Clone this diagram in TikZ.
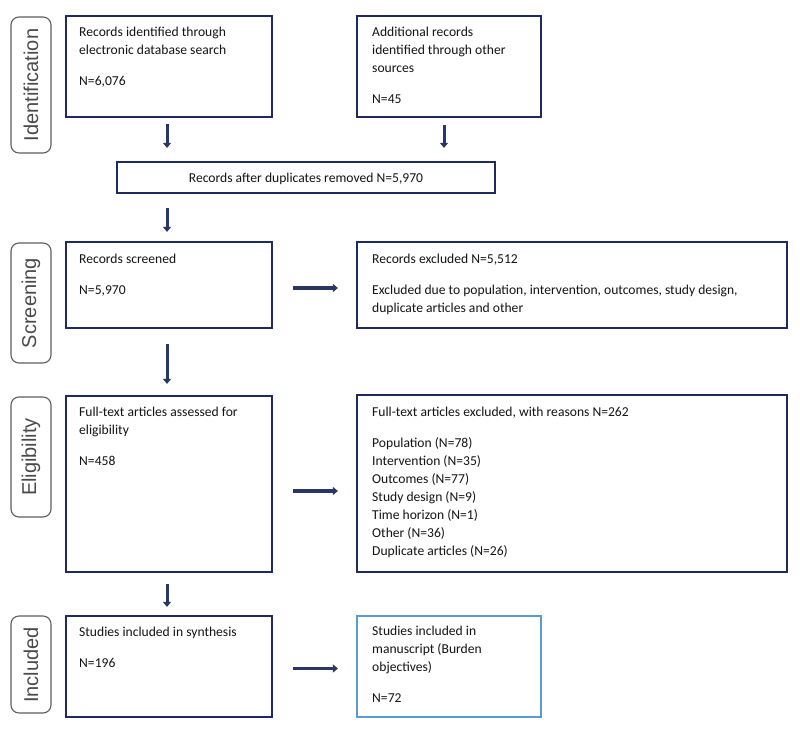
\documentclass[tikz,border=0pt]{standalone}
\usepackage{fontspec}
\setmainfont{Carlito}
\newfontfamily\labfont{Liberation Sans}
\usetikzlibrary{arrows.meta}
\definecolor{navy}{HTML}{1F2B5E}
\definecolor{arrowcol}{HTML}{283766}
\definecolor{lightblue}{HTML}{5B9BD5}
\definecolor{txtcol}{HTML}{141414}
\definecolor{labcol}{HTML}{4A4A4A}
\definecolor{sideframe}{HTML}{5E5E5E}
\newcommand{\boxtext}[2]{\parbox[t]{#1}{\setlength{\parskip}{13pt}\raggedright #2}}
\begin{document}
\begin{tikzpicture}[x=1pt,y=-1pt,
  box/.style={draw=navy,line width=2.2pt,rectangle,inner sep=0pt,fill=white},
  bluebox/.style={draw=lightblue,line width=2.2pt,rectangle,inner sep=0pt,fill=white},
  txt/.style={anchor=base west,inner sep=0pt,text=txtcol,font=\fontsize{13.6}{18}\selectfont},
  side/.style={draw=sideframe,line width=1.1pt,rounded corners=8pt,rectangle,inner sep=0pt},
  sidelab/.style={rotate=90,inner sep=0pt,text=labcol,font=\labfont\fontsize{20}{24}\selectfont},
  arr/.style={draw=arrowcol,line width=3pt,-{Triangle[length=5pt,width=8pt]}},
  harr/.style={draw=arrowcol,line width=3.5pt,-{Triangle[length=5pt,width=8pt]}}
]
\path[use as bounding box,fill=white] (0,0) rectangle (800,733);

% side labels
\draw[side] (11,17) rectangle (51,153);
\node[sidelab] (s1) at (31,85) {Identification};
\draw[side] (11,243) rectangle (51,363);
\node[sidelab] (s2) at (31,303) {Screening};
\draw[side] (11,397) rectangle (51,517);
\node[sidelab] (s3) at (31,457) {Eligibility};
\draw[side] (11,616) rectangle (51,713);
\node[sidelab] (s4) at (31,665) {Included};

% boxes
\node[box,minimum width=206pt,minimum height=101pt] (a) at (169,66.5) {};
\node[box,minimum width=184pt,minimum height=101pt] (b) at (449,66.5) {};
\node[box,minimum width=378pt,minimum height=31pt] (dup) at (306,177.5) {};
\node[box,minimum width=206pt,minimum height=86pt] (scr) at (169,285) {};
\node[box,minimum width=430pt,minimum height=86pt] (exc) at (572,285) {};
\node[box,minimum width=206pt,minimum height=176pt] (ft) at (169,484) {};
\node[box,minimum width=430pt,minimum height=177pt] (ftx) at (572,483.5) {};
\node[box,minimum width=206pt,minimum height=101pt] (syn) at (169,666.5) {};
\node[bluebox,minimum width=184pt,minimum height=101pt] (man) at (449,666.5) {};

% texts
\node[txt] (ta) at (79,37) {\boxtext{185pt}{Records identified through\\electronic database search\par N=6,076}};
\node[txt] (tb) at (372,37) {\boxtext{165pt}{Additional records\\identified through other\\sources\par N=45}};
\node[txt,anchor=base] (tdup) at (306,182) {Records after duplicates removed N=5,970};
\node[txt] (tscr) at (79,263) {\boxtext{185pt}{Records screened\par N=5,970}};
\node[txt] (texc) at (372,263) {\boxtext{410pt}{Records excluded N=5,512\par Excluded due to population, intervention, outcomes, study design,\\duplicate articles and other}};
\node[txt] (tft) at (79,416) {\boxtext{185pt}{Full-text articles assessed for\\eligibility\par N=458}};
\node[txt] (tftx) at (372,416) {\boxtext{410pt}{Full-text articles excluded, with reasons N=262\par Population (N=78)\\Intervention (N=35)\\Outcomes (N=77)\\Study design (N=9)\\Time horizon (N=1)\\Other (N=36)\\Duplicate articles (N=26)}};
\node[txt] (tsyn) at (79,636) {\boxtext{185pt}{Studies included in synthesis\par N=196}};
\node[txt] (tman) at (372,635) {\boxtext{165pt}{Studies included in\\manuscript (Burden\\objectives)\par N=72}};

% arrows
\draw[arr,shorten <=6pt,shorten >=13pt] ([xshift=-2pt]a.south) -- ([xshift=-2pt]a.south |- dup.north);
\draw[arr,shorten <=7pt,shorten >=13pt] ([xshift=-5pt]b.south) -- ([xshift=-5pt]b.south |- dup.north);
\draw[arr,shorten <=14pt,shorten >=9pt] ([xshift=-2pt]scr.north |- dup.south) -- ([xshift=-2pt]scr.north);
\draw[arr,shorten <=15pt,shorten >=11pt] ([xshift=-2pt]scr.south) -- ([xshift=-2pt]ft.north);
\draw[arr,shorten <=11pt,shorten >=8pt] ([xshift=-2pt]ft.south) -- ([xshift=-2pt]syn.north);
\draw[harr,shorten <=20pt,shorten >=18pt] ([yshift=-3pt]scr.east) -- ([yshift=-3pt]scr.east -| exc.west);
\draw[harr,shorten <=20pt,shorten >=18pt] ([yshift=-7pt]ft.east) -- ([yshift=-7pt]ft.east -| ftx.west);
\draw[harr,shorten <=20pt,shorten >=18pt] ([yshift=-2pt]syn.east) -- ([yshift=-2pt]syn.east -| man.west);
\end{tikzpicture}
\end{document}
